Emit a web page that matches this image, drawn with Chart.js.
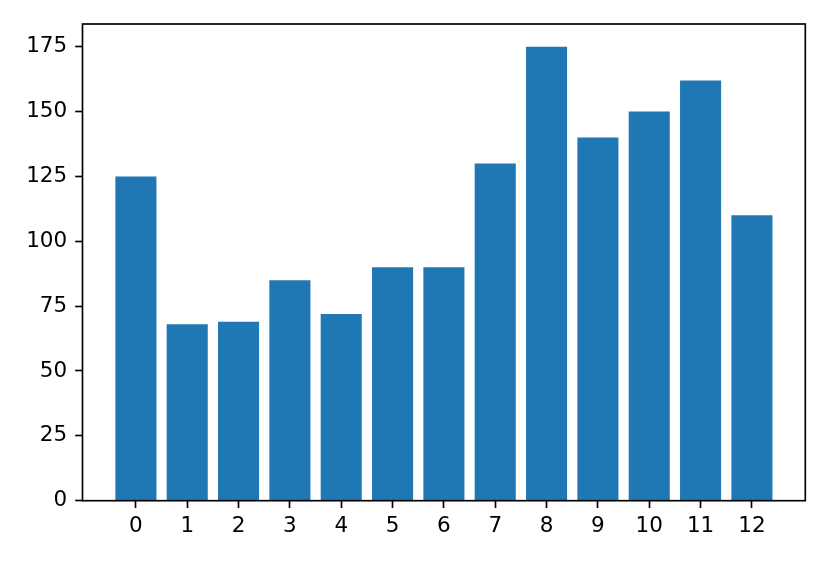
<!DOCTYPE html>
<html>
<head>
<meta charset="utf-8">
<script src="https://cdn.jsdelivr.net/npm/chart.js@4.4.1/dist/chart.umd.min.js"></script>
<style>
  html, body { margin: 0; padding: 0; background: #fff; }
  #wrap { width: 830px; height: 564px; }
</style>
</head>
<body>
<div id="wrap"><canvas id="barChart" width="830" height="564"></canvas></div>
<script>
// data
const categories = [0, 1, 2, 3, 4, 5, 6, 7, 8, 9, 10, 11, 12];
const values = [125, 68, 69, 85, 72, 90, 90, 130, 175, 140, 150, 162, 110];
const yTicks = [0, 25, 50, 75, 100, 125, 150, 175];

const LINE = 1.67;
const FONT = { family: "'DejaVu Sans'", size: 21.5 };

// matplotlib-like frame around the plot area
const framePlugin = {
  id: "frame",
  afterDraw(chart) {
    const { ctx, chartArea: a } = chart;
    ctx.save();
    ctx.strokeStyle = "#000";
    ctx.lineWidth = LINE;
    ctx.strokeRect(a.left, a.top, a.right - a.left, a.bottom - a.top);
    ctx.restore();
  },
};

const ctx = document.getElementById("barChart").getContext("2d");

new Chart(ctx, {
  type: "bar",
  data: {
    datasets: [
      {
        data: categories.map((c, i) => ({ x: c, y: values[i] })),
        backgroundColor: "#1f77b4",
        borderWidth: 0,
        categoryPercentage: 0.8,
        barPercentage: 1.0,
      },
    ],
  },
  options: {
    responsive: false,
    animation: false,
    events: [],
    layout: { padding: { top: 24, right: 24.7, left: 0, bottom: 0 } },
    plugins: {
      legend: { display: false },
      tooltip: { enabled: false },
    },
    scales: {
      x: {
        type: "linear",
        offset: false,
        min: -1.04,
        max: 13.04,
        afterBuildTicks(scale) {
          scale.ticks = categories.map((v) => ({ value: v }));
        },
        afterFit(scale) {
          scale.height = 63.3;
        },
        grid: {
          offset: false,
          drawOnChartArea: false,
          drawTicks: true,
          tickLength: 7.3,
          tickWidth: LINE,
          tickColor: "#000",
        },
        border: { display: false },
        ticks: {
          autoSkip: false,
          maxRotation: 0,
          color: "#000",
          font: FONT,
          padding: 6,
        },
      },
      y: {
        min: 0,
        max: 183.75,
        afterBuildTicks(scale) {
          scale.ticks = yTicks.map((v) => ({ value: v }));
        },
        afterFit(scale) {
          scale.width = 82.5;
        },
        grid: {
          drawOnChartArea: false,
          drawTicks: true,
          tickLength: 7.3,
          tickWidth: LINE,
          tickColor: "#000",
        },
        border: { display: false },
        ticks: {
          color: "#000",
          font: FONT,
          padding: 8,
        },
      },
    },
  },
  plugins: [framePlugin],
});
</script>
</body>
</html>
